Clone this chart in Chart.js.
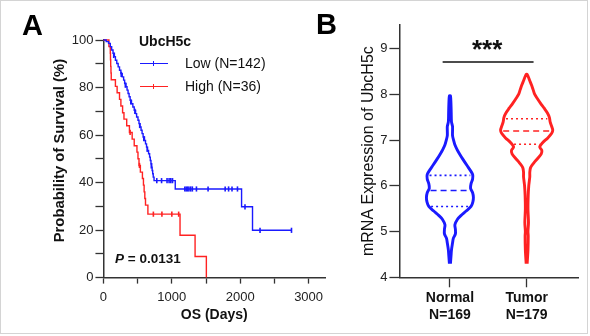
<!DOCTYPE html>
<html>
<head>
<meta charset="utf-8">
<script src="https://cdn.jsdelivr.net/npm/chart.js@4.4.0/dist/chart.umd.min.js"></script>
<style>
  body { margin: 0; background: #fff; font-family: 'Liberation Sans', Arial, sans-serif; }
  #frame { position: absolute; left: 0; top: 0; width: 586px; height: 332px; border: 1px solid #d4d4d4; }
  canvas { position: absolute; top: 0; }
  #chartA { left: 0; }
  #chartB { left: 300px; }
  .txt { position: absolute; white-space: nowrap; color: #111; line-height: 1; }
  .panel { font-size: 29px; font-weight: bold; color: #000; }
  .sym { position: absolute; height: 0; border-top: 1.4px solid; width: 28px; }
  .sym i { position: absolute; left: 13px; top: -3px; height: 5px; border-left: 1.5px solid; }
</style>
</head>
<body>
<div id="frame"></div>
<canvas id="chartA" width="340" height="336"></canvas>
<canvas id="chartB" width="290" height="336"></canvas>

<div class="txt panel" style="left:22px; top:11px;">A</div>
<div class="txt panel" style="left:316px; top:10px;">B</div>

<div class="txt" style="left:139px; top:34px; font-size:14px; font-weight:bold;">UbcH5c</div>
<div class="sym" style="left:140px; top:63px; border-color:#1a1aff;"><i style="border-color:#1a1aff"></i></div>
<div class="sym" style="left:140px; top:86px; border-color:#f22;"><i style="border-color:#f22"></i></div>
<div class="txt" style="left:185px; top:56px; font-size:14px;">Low (N=142)</div>
<div class="txt" style="left:185px; top:79px; font-size:14px;">High (N=36)</div>
<div class="txt" style="left:115px; top:252px; font-size:13.5px; font-weight:bold;"><i>P</i> = 0.0131</div>
<div class="txt" style="left:472px; top:36px; font-size:26px; font-weight:bold;">***</div>

<script>
// Kaplan-Meier, UbcH5c low (N=142)
const lowDays = [0, 40, 75, 100, 120, 140, 160, 175, 195, 215, 235, 255, 275, 295, 310, 330, 345, 360, 375, 390,
  410, 430, 450, 470, 485, 505, 520, 535, 550, 565, 580, 600, 615, 630, 645, 660, 675, 685, 695, 705,
  712, 720, 728, 740, 1050, 2020, 2180, 2750];
const lowSurv = [100, 99.3, 98.6, 97.2, 95.8, 94.4, 93, 91.5, 90.1, 88.7, 87.3, 85.9, 84.5, 83.1, 81.7, 80.3, 78.9, 77.5, 76.1, 74.6,
  73.2, 71.8, 70.4, 69, 67.6, 66.2, 64.8, 63.4, 62, 60.6, 59.2, 57.7, 56.3, 54.9, 53.5, 52.1, 50.7, 49.3, 47.9, 46.5,
  45.1, 43.7, 42.3, 40.8, 37.3, 29.8, 19.9, 19.9];
const lowCensorDays = [150, 260, 320, 400, 460, 530, 590, 640, 700, 780, 850, 930, 960, 985, 1010,
  1190, 1210, 1230, 1250, 1275, 1300, 1360, 1530, 1780, 1830, 1880, 1960, 2070, 2290, 2750];
const lowCensorSurv = [93.5, 85.5, 81, 74, 70, 64, 58.5, 54, 47, 40.8, 40.8, 40.8, 40.8, 40.8, 40.8,
  37.3, 37.3, 37.3, 37.3, 37.3, 37.3, 37.3, 37.3, 37.3, 37.3, 37.3, 37.3, 29.8, 19.9, 19.9];

// UbcH5c high (N=36)
const highDays = [0, 80, 100, 103, 106, 110, 114, 175, 200, 235, 255, 280, 300, 340, 380, 420, 450, 490, 505, 520,
  540, 570, 585, 595, 605, 615, 650, 1120, 1340, 1505];
const highSurv = [100, 97.2, 94.4, 91.7, 88.9, 86.1, 83.3, 80.5, 77.8, 75, 72.2, 69.4, 66.7, 63.9, 61.1, 58.3, 55.5, 52.8, 50, 47.2,
  44.4, 41.7, 38.9, 36.1, 33.3, 30.5, 26.7, 17.8, 8.9, 0];
const highCensorDays = [390, 527, 730, 855, 1000, 1100];
const highCensorSurv = [61.1, 47.2, 26.7, 26.7, 26.7, 26.7];

const dayTicks = [0, 500, 1000, 1500, 2000, 2500, 3000];
const survTicks = [0, 10, 20, 30, 40, 50, 60, 70, 80, 90, 100];

// violin plot: expression levels and relative density (outline half width)
const groups = ['Normal', 'Tumor'];
const groupN = [169, 179];
const normalLevels = [4.3, 4.45, 4.6, 4.75, 4.85, 4.95, 5.05, 5.15, 5.27, 5.35, 5.45, 5.55, 5.65, 5.75, 5.85, 5.95,
  6.05, 6.15, 6.25, 6.35, 6.45, 6.58, 6.7, 6.8, 6.9, 7.0, 7.1, 7.2, 7.3, 7.4, 7.6, 7.8, 7.97];
const normalDensity = [0.02, 0.04, 0.06, 0.1, 0.13, 0.21, 0.21, 0.19, 0.29, 0.42, 0.62, 0.81, 0.88, 0.9, 0.87, 0.79,
  0.81, 0.87, 0.87, 0.77, 0.65, 0.5, 0.37, 0.27, 0.19, 0.14, 0.1, 0.1, 0.1, 0.06, 0.05, 0.04, 0.02];
const tumorLevels = [4.3, 4.6, 4.9, 5.0, 5.2, 5.5, 5.8, 6.0, 6.1, 6.2, 6.3, 6.4, 6.5, 6.6, 6.7, 6.78, 6.85, 6.95,
  7.05, 7.15, 7.22, 7.3, 7.4, 7.5, 7.6, 7.7, 7.8, 7.9, 8.0, 8.1, 8.2, 8.3, 8.44];
const tumorDensity = [0.02, 0.05, 0.06, 0.05, 0.07, 0.05, 0.06, 0.08, 0.1, 0.12, 0.12, 0.15, 0.27, 0.42, 0.56, 0.58, 0.5, 0.62,
  0.81, 0.96, 1.0, 0.96, 0.9, 0.87, 0.79, 0.67, 0.54, 0.42, 0.31, 0.25, 0.19, 0.12, 0.02];
const normalQuartiles = [5.55, 5.9, 6.23];
const tumorQuartiles = [6.91, 7.2, 7.47];
const exprTicks = [4, 5, 6, 7, 8, 9];
const sigLevel = 8.71;

const BLUE = '#1a1aff';
const RED = '#ff2222';
const AXIS = '#333';
const FONT = "'Liberation Sans', Arial, sans-serif";
const HALF = 0.34; // max half width of a violin, in x units

Chart.defaults.font.family = FONT;
Chart.defaults.color = '#111';

function km(days, surv) {
  return days.map((d, i) => ({ x: d, y: surv[i] }));
}

// ---------- panel A ----------
new Chart(document.getElementById('chartA'), {
  type: 'line',
  data: {
    datasets: [
      { data: km(lowDays, lowSurv), borderColor: BLUE, borderWidth: 1.4, stepped: 'before', pointRadius: 0, clip: false },
      { data: km(highDays, highSurv), borderColor: RED, borderWidth: 1.4, stepped: 'before', pointRadius: 0, clip: false },
      { data: km(lowCensorDays, lowCensorSurv), showLine: false, pointStyle: 'line', rotation: 90, pointRadius: 2.6,
        borderColor: BLUE, borderWidth: 1.6, clip: false },
      { data: km(highCensorDays, highCensorSurv), showLine: false, pointStyle: 'line', rotation: 90, pointRadius: 2.6,
        borderColor: RED, borderWidth: 1.6, clip: false }
    ]
  },
  options: {
    responsive: false,
    animation: false,
    layout: { padding: { left: 51, top: 40, right: 15, bottom: 12 } },
    plugins: { legend: { display: false }, tooltip: { enabled: false } },
    scales: {
      x: {
        type: 'linear', min: 0, max: 3240,
        afterBuildTicks: s => { s.ticks = dayTicks.map(v => ({ value: v })); },
        ticks: { autoSkip: false, maxRotation: 0, padding: 6, font: { size: 13 }, color: '#222',
          callback: v => (v % 1000 === 0 ? String(v) : '') },
        grid: { drawOnChartArea: false, tickLength: 6, color: AXIS, tickWidth: 1.3 },
        border: { color: AXIS, width: 1.5 },
        title: { display: true, text: 'OS (Days)', font: { size: 14, weight: 'bold' }, color: '#111', padding: { top: -4, bottom: 0 } }
      },
      y: {
        min: 0, max: 100,
        afterBuildTicks: s => { s.ticks = survTicks.map(v => ({ value: v })); },
        ticks: { autoSkip: false, padding: 2, font: { size: 13 }, color: '#222',
          callback: v => (v % 20 === 0 ? String(v) : '') },
        grid: { drawOnChartArea: false, tickLength: 8, color: AXIS, tickWidth: 1.3 },
        border: { color: AXIS, width: 1.5 },
        title: { display: true, text: '    Probability of Survival (%)', font: { size: 14.8, weight: 'bold' }, color: '#111', padding: { top: 0, bottom: 1 } }
      }
    }
  }
});

// ---------- panel B ----------
function outline(center, levels, dens) {
  const right = levels.map((v, i) => ({ x: center + dens[i] * HALF, y: v }));
  const left = levels.map((v, i) => ({ x: center - dens[i] * HALF, y: v })).reverse();
  return right.concat(left);
}

function halfAt(levels, dens, v) {
  for (let i = 1; i < levels.length; i++) {
    if (v <= levels[i]) {
      const f = (v - levels[i - 1]) / (levels[i] - levels[i - 1]);
      return (dens[i - 1] + f * (dens[i] - dens[i - 1])) * HALF;
    }
  }
  return 0;
}

function quartileLines(center, levels, dens, q, color) {
  return q.map((v, i) => {
    const w = halfAt(levels, dens, v) - 0.03;
    return {
      data: [{ x: center - w, y: v }, { x: center + w, y: v }],
      showLine: true, borderColor: color, borderWidth: 1.6, pointRadius: 0,
      borderDash: i === 1 ? [6, 4] : [2, 3]
    };
  });
}

new Chart(document.getElementById('chartB'), {
  type: 'scatter',
  data: {
    datasets: [
      { data: outline(0, normalLevels, normalDensity), showLine: true, borderColor: BLUE, borderWidth: 2.9, pointRadius: 0, tension: 0.3 },
      { data: outline(1, tumorLevels, tumorDensity), showLine: true, borderColor: RED, borderWidth: 2.9, pointRadius: 0, tension: 0.3 },
      ...quartileLines(0, normalLevels, normalDensity, normalQuartiles, BLUE),
      ...quartileLines(1, tumorLevels, tumorDensity, tumorQuartiles, RED),
      { data: [{ x: -0.095, y: sigLevel }, { x: 1.09, y: sigLevel }], showLine: true, borderColor: '#111', borderWidth: 1.5, pointRadius: 0 }
    ]
  },
  options: {
    responsive: false,
    animation: false,
    layout: { padding: { left: 59, top: 25, right: 12, bottom: 10 } },
    plugins: { legend: { display: false }, tooltip: { enabled: false } },
    scales: {
      x: {
        type: 'linear', min: -0.658, max: 1.669,
        afterBuildTicks: s => { s.ticks = groups.map((g, i) => ({ value: i })); },
        ticks: { autoSkip: false, maxRotation: 0, padding: 2, color: '#111',
          font: { size: 14, weight: 'bold', lineHeight: 1.24 },
          callback: v => [groups[v], 'N=' + groupN[v]] },
        grid: { drawOnChartArea: false, tickLength: 10, color: AXIS, tickWidth: 1.3 },
        border: { color: AXIS, width: 1.5 }
      },
      y: {
        min: 4, max: 9.52,
        afterBuildTicks: s => { s.ticks = exprTicks.map(v => ({ value: v })); },
        ticks: { autoSkip: false, padding: 2, font: { size: 13 }, color: '#222' },
        grid: { drawOnChartArea: false, tickLength: 10, color: AXIS, tickWidth: 1.3 },
        border: { color: AXIS, width: 1.5 },
        title: { display: true, text: 'mRNA Expression of UbcH5c', font: { size: 16 }, color: '#111', padding: { top: 0, bottom: 0 } }
      }
    }
  }
});
</script>
</body>
</html>
